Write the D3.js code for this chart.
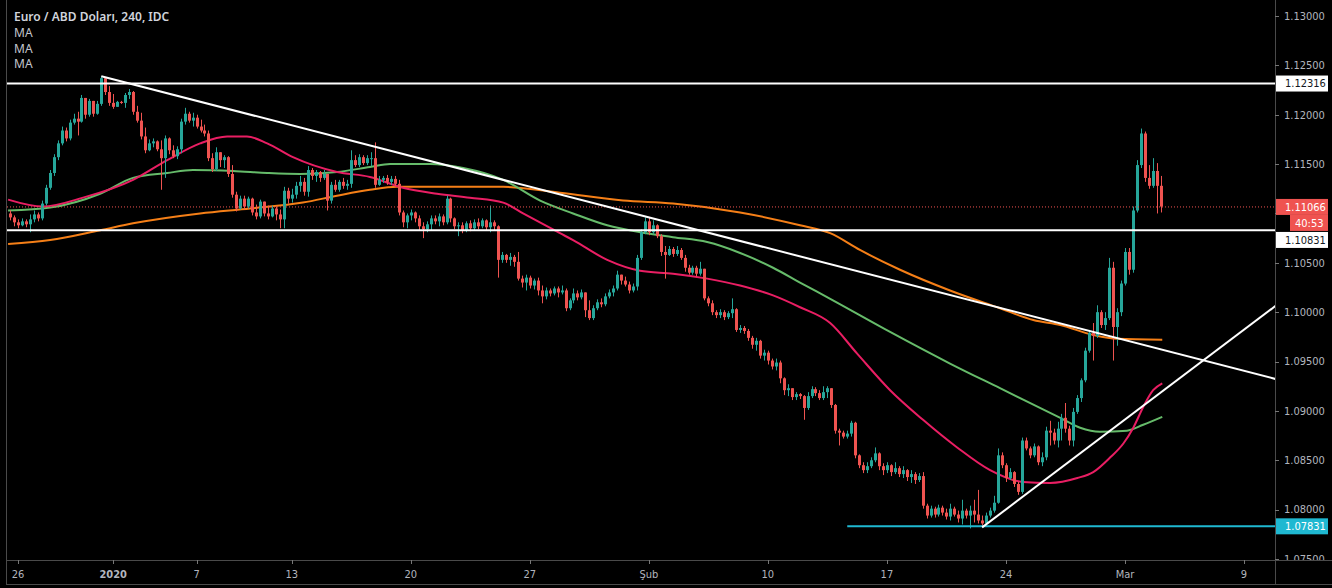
<!DOCTYPE html>
<html lang="tr">
<head>
<meta charset="UTF-8">
<title>Euro / ABD Doları, 240</title>
<script src="https://d3js.org/d3.v7.min.js"></script>
<style>
  * { margin: 0; padding: 0; }
  body { background: #000; width: 1332px; height: 588px; overflow: hidden; }
  svg { display: block; }
  .ax { font-family: "DejaVu Sans Condensed", "Liberation Sans Narrow", "Roboto", sans-serif; font-size: 11px; fill: #b2b5be; }
</style>
</head>
<body>
<svg id="chart" width="1332" height="588"></svg>
<script>
// 4 saatlik mumlar, bar index -2 .. 288 (open = önceki kapanış)
const barStart = -2;
const firstOpen = 1.1100;
const closes = [
  1.1096,1.1091,1.1088,1.1092,1.1089,1.1094,1.1099,1.1095,1.1110,1.1126,1.1141,1.1157,
  1.1171,1.1184,1.1176,1.1192,1.1196,1.1193,1.1217,1.1200,1.1214,1.1201,
  1.1211,1.1237,1.1223,1.1212,1.1208,1.1213,1.1212,1.1220,1.1223,1.1203,
  1.1194,1.1178,1.1164,1.1171,1.1173,1.1165,1.1156,1.1176,1.1164,1.1158,
  1.1165,1.1193,1.1201,1.1194,1.1197,1.1188,1.1184,1.1181,1.1156,1.1145,
  1.1162,1.1154,1.1157,1.1140,1.1119,1.1105,1.1115,1.1107,1.1115,1.1101,
  1.1097,1.1112,1.1100,1.1097,1.1105,1.1099,1.1094,1.1123,1.1115,1.1119,
  1.1128,1.1132,1.1122,1.1144,1.1138,1.1142,1.1136,1.1140,1.1113,1.1129,
  1.1124,1.1132,1.1128,1.1130,1.1154,1.1149,1.1157,1.1151,1.1156,1.1156,
  1.1129,1.1134,1.1136,1.1132,1.1135,1.1130,1.1101,1.1091,1.1098,1.1101,
  1.1095,1.1087,1.1084,1.1089,1.1095,1.1092,1.1097,1.1091,1.1115,1.1095,
  1.1087,1.1088,1.1083,1.1090,1.1085,1.1091,1.1087,1.1093,1.1086,1.1091,
  1.1087,1.1053,1.1058,1.1053,1.1056,1.1051,1.1034,1.1030,1.1035,1.1027,
  1.1032,1.1022,1.1016,1.1022,1.1019,1.1024,1.1020,1.1022,1.1004,1.1012,
  1.1019,1.1015,1.1020,1.1002,1.0994,1.1004,1.1010,1.1008,1.1016,1.1020,
  1.1024,1.1038,1.1032,1.1028,1.1022,1.1026,1.1055,1.1081,1.1092,1.1081,
  1.1088,1.1077,1.1061,1.1058,1.1064,1.1059,1.1063,1.1055,1.1045,1.1040,
  1.1045,1.1039,1.1044,1.1014,1.1009,1.1000,1.0997,1.1000,1.0995,1.0999,
  1.1003,1.0982,1.0984,1.0981,1.0974,1.0967,1.0971,1.0956,1.0959,1.0951,
  1.0945,1.0949,1.0933,1.0921,1.0923,1.0914,1.0917,1.0915,1.0903,1.0915,
  1.0922,1.0918,1.0913,1.0919,1.0923,1.0906,1.0880,1.0878,1.0874,1.0877,
  1.0888,1.0855,1.0845,1.0840,1.0844,1.0850,1.0857,1.0844,1.0840,1.0845,
  1.0838,1.0842,1.0836,1.0840,1.0833,1.0836,1.0830,1.0834,1.0804,1.0794,
  1.0801,1.0795,1.0802,1.0797,1.0793,1.0801,1.0795,1.0791,1.0799,1.0794,
  1.0799,1.0795,1.0789,1.0786,1.0794,1.0799,1.0807,1.0855,1.0845,1.0832,
  1.0838,1.0826,1.0818,1.0870,1.0862,1.0855,1.0864,1.0848,1.0853,1.0880,
  1.0878,1.0870,1.0882,1.0893,1.0882,1.0870,1.0899,1.0913,1.0931,1.0961,
  1.0979,1.0976,1.1000,1.0987,1.0994,1.1045,1.0985,1.1000,1.1029,1.1061,
  1.1043,1.1103,1.1149,1.1181,1.1136,1.1128,1.1143,1.1128,1.1107
];
const highs = [
  1.1103,1.1098,1.1094,1.1095,1.1094,1.1099,1.1103,1.1101,1.1113,1.1129,1.1144,1.1160,
  1.1174,1.1188,1.1187,1.1195,1.1201,1.1203,1.1220,1.1215,1.1216,1.1213,
  1.1214,1.1239,1.1238,1.1229,1.1221,1.1214,1.1214,1.1222,1.1226,1.1224,
  1.1209,1.1202,1.1187,1.1175,1.1176,1.1174,1.1174,1.1179,1.1177,1.1169,
  1.1168,1.1196,1.1207,1.1203,1.1202,1.1200,1.1195,1.1190,1.1184,1.1161,
  1.1167,1.1160,1.1159,1.1158,1.1149,1.1122,1.1118,1.1118,1.1117,1.1116,
  1.1109,1.1114,1.1111,1.1108,1.1108,1.1107,1.1104,1.1127,1.1126,1.1125,
  1.1132,1.1138,1.1136,1.1148,1.1146,1.1144,1.1143,1.1144,1.1138,1.1132,
  1.1134,1.1134,1.1136,1.1134,1.1164,1.1159,1.1160,1.1159,1.1159,1.1162,
  1.1172,1.1138,1.1138,1.1139,1.1138,1.1138,1.1134,1.1103,1.1100,1.1104,
  1.1102,1.1098,1.1091,1.1092,1.1098,1.1098,1.1100,1.1099,1.1118,1.1116,
  1.1096,1.1091,1.1091,1.1092,1.1093,1.1094,1.1095,1.1095,1.1094,1.1108,
  1.1093,1.1088,1.1061,1.1059,1.1060,1.1058,1.1061,1.1037,1.1038,1.1037,
  1.1034,1.1035,1.1027,1.1025,1.1024,1.1026,1.1026,1.1027,1.1024,1.1014,
  1.1024,1.1022,1.1023,1.1019,1.1012,1.1007,1.1013,1.1014,1.1019,1.1023,
  1.1027,1.1042,1.1038,1.1036,1.1031,1.1029,1.1058,1.1084,1.1096,1.1096,
  1.1093,1.1089,1.1079,1.1067,1.1067,1.1066,1.1067,1.1065,1.1058,1.1048,
  1.1047,1.1047,1.1051,1.1044,1.1016,1.1012,1.1002,1.1003,1.1002,1.1001,
  1.1014,1.1004,1.0987,1.0986,1.0983,1.0976,1.0974,1.0972,1.0962,1.0961,
  1.0953,1.0953,1.0951,1.0934,1.0927,1.0919,1.0919,1.0918,1.0916,1.0919,
  1.0925,1.0924,1.0921,1.0925,1.0925,1.0923,1.0907,1.0882,1.0880,1.0880,
  1.0890,1.0889,1.0856,1.0848,1.0848,1.0853,1.0863,1.0858,1.0847,1.0848,
  1.0846,1.0848,1.0844,1.0844,1.0841,1.0840,1.0838,1.0837,1.0838,1.0806,
  1.0804,1.0803,1.0805,1.0804,1.0801,1.0806,1.0803,1.0799,1.0810,1.0801,
  1.0804,1.0810,1.0820,1.0794,1.0797,1.0802,1.0814,1.0862,1.0858,1.0847,
  1.0842,1.0839,1.0828,1.0873,1.0873,1.0864,1.0867,1.0865,1.0858,1.0884,
  1.0890,1.0882,1.0889,1.0897,1.0908,1.0885,1.0903,1.0916,1.0933,1.0964,
  1.0982,1.0989,1.1007,1.1002,1.1000,1.1055,1.1051,1.1004,1.1032,1.1065,
  1.1065,1.1107,1.1154,1.1186,1.1183,1.1149,1.1156,1.1151,1.1138
];
const lows = [
  1.1093,1.1087,1.1085,1.1087,1.1086,1.1081,1.1091,1.1092,1.1093,1.1108,1.1124,1.1138,
  1.1154,1.1169,1.1173,1.1174,1.1190,1.1179,1.1192,1.1196,1.1198,1.1198,
  1.1200,1.1209,1.1220,1.1209,1.1206,1.1211,1.1211,1.1207,1.1216,1.1200,
  1.1192,1.1175,1.1161,1.1163,1.1167,1.1163,1.1124,1.1136,1.1160,1.1156,
  1.1155,1.1161,1.1190,1.1192,1.1188,1.1186,1.1182,1.1178,1.1153,1.1142,
  1.1143,1.1147,1.1146,1.1137,1.1116,1.1102,1.1104,1.1104,1.1105,1.1098,
  1.1094,1.1095,1.1097,1.1094,1.1096,1.1093,1.1085,1.1085,1.1110,1.1111,
  1.1115,1.1122,1.1118,1.1117,1.1134,1.1132,1.1132,1.1134,1.1103,1.1110,
  1.1122,1.1122,1.1125,1.1124,1.1126,1.1147,1.1147,1.1149,1.1149,1.1148,
  1.1126,1.1128,1.1131,1.1129,1.1129,1.1128,1.1098,1.1086,1.1085,1.1093,
  1.1091,1.1083,1.1075,1.1081,1.1083,1.1089,1.1087,1.1088,1.1089,1.1091,
  1.1084,1.1077,1.1080,1.1081,1.1082,1.1083,1.1084,1.1085,1.1083,1.1081,
  1.1083,1.1035,1.1050,1.1050,1.1047,1.1046,1.1032,1.1025,1.1022,1.1024,
  1.1023,1.1017,1.1009,1.1013,1.1016,1.1017,1.1015,1.1018,1.1001,1.1002,
  1.1009,1.1012,1.1013,1.0995,1.0992,1.0992,1.1002,1.1005,1.1006,1.1014,
  1.1016,1.1022,1.1028,1.1026,1.1019,1.1020,1.1022,1.1053,1.1079,1.1078,
  1.1079,1.1075,1.1057,1.1034,1.1057,1.1056,1.1057,1.1053,1.1041,1.1038,
  1.1038,1.1036,1.1037,1.1012,1.1006,1.0997,1.0994,1.0994,1.0992,1.0993,
  1.0994,1.0980,1.0979,1.0978,1.0971,1.0963,1.0961,1.0953,1.0951,1.0947,
  1.0942,1.0941,1.0928,1.0916,1.0915,1.0911,1.0911,1.0912,1.0891,1.0901,
  1.0913,1.0915,1.0911,1.0911,1.0913,1.0903,1.0877,1.0865,1.0872,1.0872,
  1.0874,1.0852,1.0842,1.0837,1.0837,1.0842,1.0848,1.0840,1.0835,1.0837,
  1.0834,1.0836,1.0833,1.0832,1.0829,1.0827,1.0826,1.0828,1.0801,1.0791,
  1.0792,1.0792,1.0793,1.0794,1.0790,1.0789,1.0793,1.0787,1.0785,1.0791,
  1.0781,1.0787,1.0786,1.0782,1.0784,1.0792,1.0797,1.0806,1.0842,1.0828,
  1.0830,1.0823,1.0815,1.0816,1.0860,1.0852,1.0853,1.0845,1.0844,1.0850,
  1.0865,1.0866,1.0863,1.0870,1.0878,1.0865,1.0864,1.0897,1.0909,1.0929,
  1.0959,1.0951,1.0974,1.0984,1.0982,1.0992,1.0951,1.0966,1.0996,1.1027,
  1.1038,1.1040,1.1101,1.1146,1.1132,1.1125,1.1126,1.1100,1.1101
];

// hareketli ortalamalar (resimden okunan noktalar)
const maFastBars = [-2.5,6.3,16.4,29,37.6,45.9,52.7,57.7,62.8,69.3,80.4,88.7,97,105.6,113.9,122.3,127.3,136.6,139.9,148.5,156.8,165.1,173.7,182,190.3,197.1,204.7,211.5,219.8,228.1,236.7,245,253.3,260.1,267,271,275.3,278.6,281.1,283.6,286.1,288.4];
const maFastVals = [1.1114,1.1107,1.1116,1.1134,1.1154,1.1171,1.1178,1.1178,1.1171,1.1157,1.1142,1.1137,1.1126,1.1120,1.1116,1.1111,1.1100,1.1080,1.1073,1.1053,1.1042,1.1039,1.1034,1.1027,1.1017,1.1005,1.0989,1.0958,1.0921,1.0891,1.0863,1.0840,1.0828,1.0827,1.0832,1.0838,1.0853,1.0867,1.0883,1.0904,1.0921,1.0928];
const maMidBars = [-2.5,8.1,20.7,29,37.6,44.1,54.2,62.8,71.1,80.4,88.7,93.8,103.9,112.2,122.3,131.6,139.9,148.5,156.8,165.1,173.7,182,190.3,197.1,205.4,219.8,234.9,247.5,262.7,267.7,272.7,279.5,283.6,288.4];
const maMidVals = [1.1103,1.1106,1.1120,1.1136,1.1141,1.1144,1.1143,1.1141,1.1140,1.1142,1.1147,1.1150,1.1150,1.1146,1.1134,1.1113,1.1100,1.1088,1.1081,1.1076,1.1071,1.1060,1.1045,1.1030,1.1012,1.0980,1.0948,1.0923,1.0893,1.0883,1.0879,1.0880,1.0886,1.0894];
const maSlowBars = [-2.5,8.1,20.7,29,45.9,58.5,71.8,80.4,88.7,95.5,105.6,122.3,136.6,152.5,165.1,182,197.1,204.7,212.2,222.3,234.9,247.5,255.9,262.7,271,277,288.4];
const maSlowVals = [1.1069,1.1073,1.1083,1.1090,1.1100,1.1105,1.1111,1.1118,1.1124,1.1127,1.1127,1.1127,1.1121,1.1113,1.1110,1.1101,1.1088,1.1080,1.1063,1.1043,1.1022,1.1004,1.0992,1.0987,1.0977,1.0973,1.0972];

// çizimler
const trendDown = [[21, 1.1239], [159, 1.1096]];
const trendUp = [[243, 1.0782], [273, 1.0873]];
const levels = [1.12316, 1.10831];
const support = 1.07831;
const supportFrom = 209;
const lastPrice = 1.11066;
const countdown = '40:53';

const tickBars = [0, 24, 45, 69, 99, 129, 159, 189, 219, 249, 279, 309];
const tickLabels = ['26', '2020', '7', '13', '20', '27', 'Şub', '10', '17', '24', 'Mar', '9'];
const priceTicks = [1.075, 1.08, 1.085, 1.09, 1.095, 1.10, 1.105, 1.11, 1.115, 1.12, 1.125, 1.13];

const W = 1332, H = 588;
const left = 7, right = 1275, bottom = 560;

const svg = d3.select('#chart');
const xs = d3.scaleLinear().domain([0, 309]).range([18, 1244]);
const ys = d3.scaleLinear().domain([1.075, 1.13]).range([559, 16]);
const xEnd = xs.invert(right) + 1;

svg.append('rect').attr('width', W).attr('height', H).attr('fill', '#000');

const defs = svg.append('defs');
defs.append('clipPath').attr('id', 'plot')
  .append('rect').attr('x', left).attr('y', 0).attr('width', right - left).attr('height', bottom);
defs.append('clipPath').attr('id', 'raxis')
  .append('rect').attr('x', right).attr('y', 0).attr('width', W - right).attr('height', bottom);

const plot = svg.append('g').attr('clip-path', 'url(#plot)');

// MA çizgileri
const line = d3.line().x(d => xs(d[0])).y(d => ys(d[1])).curve(d3.curveMonotoneX);
const mas = [
  { bars: maSlowBars, vals: maSlowVals, color: '#f57f17' },
  { bars: maMidBars, vals: maMidVals, color: '#66bb6a' },
  { bars: maFastBars, vals: maFastVals, color: '#e91e63' }
];
mas.forEach(m => {
  plot.append('path')
    .datum(m.bars.map((b, i) => [b, m.vals[i]]))
    .attr('fill', 'none').attr('stroke', m.color).attr('stroke-width', 2)
    .attr('d', line);
});

// mumlar
const candles = closes.map((c, k) => {
  const o = k === 0 ? firstOpen : closes[k - 1];
  return { bar: barStart + k, o, c, h: Math.max(highs[k], o, c), l: Math.min(lows[k], o, c) };
});
const cg = plot.append('g').selectAll('g').data(candles).enter().append('g')
  .attr('fill', d => d.c >= d.o ? '#26a69a' : '#ef5350')
  .attr('stroke', d => d.c >= d.o ? '#26a69a' : '#ef5350');
cg.append('line')
  .attr('x1', d => Math.round(xs(d.bar)) + 0.5).attr('x2', d => Math.round(xs(d.bar)) + 0.5)
  .attr('y1', d => ys(d.h)).attr('y2', d => ys(d.l)).attr('stroke-width', 1);
cg.append('rect')
  .attr('stroke', 'none')
  .attr('x', d => Math.round(xs(d.bar)) - 1)
  .attr('width', 3)
  .attr('y', d => ys(Math.max(d.o, d.c)))
  .attr('height', d => Math.max(1, Math.abs(ys(d.o) - ys(d.c))));

// yatay seviyeler
plot.append('line')
  .attr('x1', left).attr('x2', right).attr('y1', ys(lastPrice)).attr('y2', ys(lastPrice))
  .attr('stroke', '#ef5350').attr('stroke-width', 1).attr('stroke-dasharray', '1,2');
levels.forEach(v => {
  plot.append('line').attr('x1', left).attr('x2', right)
    .attr('y1', ys(v)).attr('y2', ys(v)).attr('stroke', '#fff').attr('stroke-width', 2);
});
plot.append('line').attr('x1', xs(supportFrom)).attr('x2', right)
  .attr('y1', ys(support)).attr('y2', ys(support)).attr('stroke', '#1fb8d1').attr('stroke-width', 2);

// trend çizgileri
function extend(t) {
  const slope = (t[1][1] - t[0][1]) / (t[1][0] - t[0][0]);
  return [t[0], [xEnd, t[0][1] + slope * (xEnd - t[0][0])]];
}
[trendDown, trendUp].forEach(t => {
  const p = extend(t);
  plot.append('line')
    .attr('x1', xs(p[0][0])).attr('y1', ys(p[0][1]))
    .attr('x2', xs(p[1][0])).attr('y2', ys(p[1][1]))
    .attr('stroke', '#fff').attr('stroke-width', 2);
});

// eksen çizgileri
const frame = '#4a4a4a';
svg.append('line').attr('x1', left - 0.5).attr('x2', left - 0.5).attr('y1', 0).attr('y2', 585).attr('stroke', frame);
svg.append('line').attr('x1', right + 0.5).attr('x2', right + 0.5).attr('y1', 0).attr('y2', 585).attr('stroke', frame);
svg.append('line').attr('x1', left).attr('x2', W).attr('y1', bottom + 0.5).attr('y2', bottom + 0.5).attr('stroke', frame);
svg.append('line').attr('x1', left).attr('x2', W).attr('y1', 584.5).attr('y2', 584.5).attr('stroke', frame);

// fiyat etiketlerinin yerleri (eksen yazıları bunların altında kalmasın)
const tags = [
  { y: ys(levels[0]), text: d3.format('.5f')(levels[0]), bg: '#ffffff', fg: '#131722', x0: right + 1 },
  { y: ys(lastPrice), text: d3.format('.5f')(lastPrice), bg: '#ef5350', fg: '#ffffff', x0: right + 1 },
  { y: ys(lastPrice) + 16, text: countdown, bg: '#ef5350', fg: '#ffffff', x0: 1290 },
  { y: ys(lastPrice) + 33, text: d3.format('.5f')(levels[1]), bg: '#ffffff', fg: '#131722', x0: right + 1 },
  { y: ys(support), text: d3.format('.5f')(support), bg: '#1fb8d1', fg: '#ffffff', x0: right + 1 }
];

// fiyat ekseni
const ra = svg.append('g').attr('clip-path', 'url(#raxis)');
priceTicks.forEach(v => {
  ra.append('line').attr('x1', right).attr('x2', right + 4)
    .attr('y1', Math.round(ys(v)) + 0.5).attr('y2', Math.round(ys(v)) + 0.5).attr('stroke', '#777');
  if (tags.some(t => Math.abs(t.y - ys(v)) < 14)) return;
  ra.append('text').attr('class', 'ax').attr('x', right + 9).attr('y', ys(v))
    .attr('dy', '0.35em').text(d3.format('.5f')(v));
});

// zaman ekseni
tickBars.forEach((b, i) => {
  svg.append('line').attr('x1', Math.round(xs(b)) + 0.5).attr('x2', Math.round(xs(b)) + 0.5)
    .attr('y1', bottom).attr('y2', bottom + 4).attr('stroke', '#777');
  svg.append('text').attr('class', 'ax').attr('x', xs(b)).attr('y', 574)
    .attr('dy', '0.35em').attr('text-anchor', 'middle')
    .attr('font-weight', tickLabels[i] === '2020' ? 'bold' : null)
    .text(tickLabels[i]);
});

// fiyat etiketleri
tags.forEach(t => {
  const g = svg.append('g');
  g.append('rect').attr('x', t.x0).attr('y', t.y - 8).attr('width', 1328 - t.x0).attr('height', 16).attr('fill', t.bg);
  g.append('text').attr('class', 'ax').attr('x', t.x0 + (t.x0 > 1280 ? 5 : 9)).attr('y', t.y)
    .attr('dy', '0.35em').style('fill', t.fg).text(t.text);
});

// başlık ve lejant
const legend = svg.append('g').attr('font-family', '"Noto Sans", "Open Sans", sans-serif').attr('font-size', 12);
legend.append('text').attr('x', 14).attr('y', 21).attr('fill', '#d1d4dc').attr('font-weight', 600)
  .text('Euro / ABD Doları, 240, IDC');
['MA', 'MA', 'MA'].forEach((t, i) => {
  legend.append('text').attr('x', 14).attr('y', 37 + i * 15.5).attr('fill', '#c3c6ce').text(t);
});
</script>
</body>
</html>
